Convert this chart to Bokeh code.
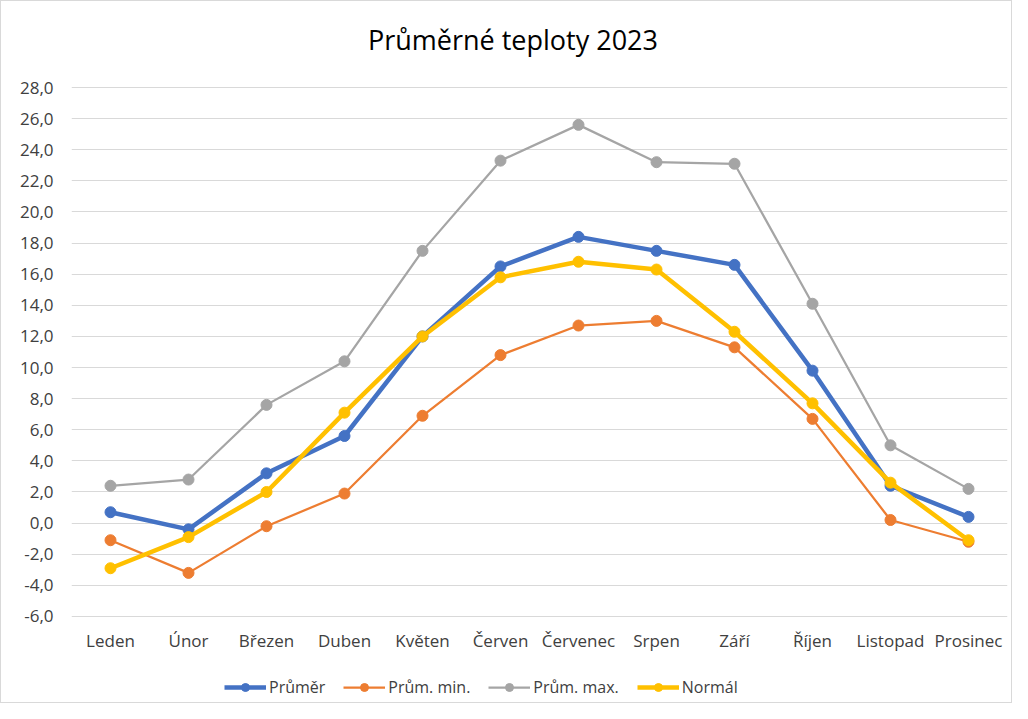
from bokeh.plotting import figure
from bokeh.models import CustomJSTickFormatter, Legend, LegendItem, FixedTicker, Label
from bokeh.embed import file_html
from bokeh.resources import INLINE

months = ["Leden", "Únor", "Březen", "Duben", "Květen", "Červen", "Červenec",
          "Srpen", "Září", "Říjen", "Listopad", "Prosinec"]
prumer = [0.7, -0.4, 3.2, 5.6, 12.0, 16.5, 18.4, 17.5, 16.6, 9.8, 2.4, 0.4]
prum_min = [-1.1, -3.2, -0.2, 1.9, 6.9, 10.8, 12.7, 13.0, 11.3, 6.7, 0.2, -1.2]
prum_max = [2.4, 2.8, 7.6, 10.4, 17.5, 23.3, 25.6, 23.2, 23.1, 14.1, 5.0, 2.2]
normal = [-2.9, -0.9, 2.0, 7.1, 12.0, 15.8, 16.8, 16.3, 12.3, 7.7, 2.6, -1.1]
y_ticks = [-6, -4, -2, 0, 2, 4, 6, 8, 10, 12, 14, 16, 18, 20, 22, 24, 26, 28]
title_text = "Průměrné teploty 2023"

series = [
    ("Průměr", prumer, "#4472C4", 4.5),
    ("Prům. min.", prum_min, "#ED7D31", 2.25),
    ("Prům. max.", prum_max, "#A5A5A5", 2.25),
    ("Normál", normal, "#FFC000", 4.5),
]

FONT = "Open Sans"

# y range extended beyond the ticks to leave room (inside the frame) for title and legend
p = figure(x_range=months, y_range=(-11.66, 33.53), width=1012, height=703,
           output_backend="svg", toolbar_location=None,
           min_border_left=70, min_border_right=6, min_border_top=0, min_border_bottom=0)
p.styles = {"border": "1px solid #d9d9d9"}
p.outline_line_color = None
p.background_fill_color = "white"
p.border_fill_color = "white"

title = Label(x=5.66, y=31.1, text=title_text, text_align="center", text_baseline="middle",
              text_font=FONT, text_font_size="27px", text_color="#000000")
p.add_layout(title)

p.yaxis.ticker = FixedTicker(ticks=y_ticks)
p.yaxis.formatter = CustomJSTickFormatter(code="return tick.toFixed(1).replace('.', ',');")
p.yaxis.axis_line_color = None
p.yaxis.major_tick_line_color = None
p.yaxis.minor_tick_line_color = None
p.yaxis.major_label_text_font = FONT
p.yaxis.major_label_text_font_size = "17px"
p.yaxis.major_label_text_color = "#404040"
p.yaxis.major_label_standoff = 12

p.xaxis.fixed_location = y_ticks[0]
p.xaxis.axis_line_color = None
p.xaxis.major_tick_line_color = None
p.xaxis.minor_tick_line_color = None
p.xaxis.major_label_text_font = FONT
p.xaxis.major_label_text_font_size = "17px"
p.xaxis.major_label_text_color = "#404040"
p.xaxis.major_label_standoff = 7

p.xgrid.grid_line_color = None
p.ygrid.grid_line_color = "#D9D9D9"
p.ygrid.grid_line_width = 1

items = []
for name, vals, color, lw in series:
    l = p.line(months, vals, line_color=color, line_width=lw)
    s = p.scatter(months, vals, size=11, fill_color=color, line_color=color)
    items.append(LegendItem(label=name, renderers=[l, s]))

legend = Legend(items=items, orientation="horizontal", location=(153, 6),
                label_text_font=FONT, label_text_font_size="16px",
                label_text_color="#404040", glyph_width=42, glyph_height=20,
                spacing=18, label_standoff=3, border_line_color=None,
                background_fill_alpha=0, margin=0, padding=4)
p.add_layout(legend, "center")

open("out.html", "w").write(file_html(p, INLINE))
